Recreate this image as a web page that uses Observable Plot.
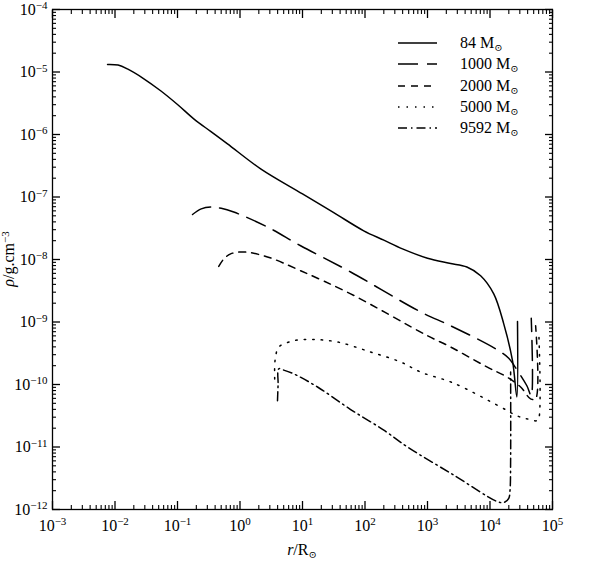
<!DOCTYPE html>
<html>
<head>
<meta charset="utf-8">
<script src="https://cdn.jsdelivr.net/npm/d3@7"></script>
<script src="https://cdn.jsdelivr.net/npm/@observablehq/plot@0.6"></script>
<style>
  body { margin: 0; background: #fff; }
  #chart svg, #chart svg text { font-family: "Liberation Serif", "Times New Roman", "DejaVu Serif", serif !important; }
</style>
</head>
<body>
<div id="chart"></div>
<script>
// ---- Data ----
const seriesLabels = ["84", "1000", "2000", "5000", "9592"];
const seriesDash = ["none", "20,9", "7,6", "1.5,7", "9,4,1.5,4"];

const r84   = [7.6e-3, 1.12e-2, 1.58e-2, 2.82e-2, 5.37e-2, 0.1, 0.182, 0.339, 0.631, 2.14, 10, 31.6, 95.5, 200, 398, 1000, 2239, 4266, 7079, 11482, 16596, 22909, 26915, 27542];
const rho84 = [1.32e-5, 1.29e-5, 1.12e-5, 7.94e-6, 5.01e-6, 3.02e-6, 1.78e-6, 1.12e-6, 7.08e-7, 2.82e-7, 1.12e-7, 5.62e-8, 2.88e-8, 2.04e-8, 1.48e-8, 1.05e-8, 8.71e-9, 7.59e-9, 5.50e-9, 2.82e-9, 9.33e-10, 2.40e-10, 6.31e-11, 1.02e-9];

const r1000   = [0.174, 0.240, 0.339, 0.501, 0.794, 2.75, 9.33, 58.9, 776, 2344, 12303, 19953, 25119, 38905, 45709, 45709];
const rho1000 = [5.25e-8, 6.46e-8, 6.92e-8, 6.61e-8, 5.75e-8, 3.31e-8, 1.66e-8, 6.31e-9, 1.45e-9, 8.71e-10, 3.72e-10, 2.63e-10, 1.91e-10, 9.55e-11, 6.61e-11, 1.15e-9];

const r2000   = [0.457, 0.550, 0.708, 1.15, 2.75, 9.33, 58.9, 1000, 2344, 8913, 18621, 30903, 44668, 53703, 53703];
const rho2000 = [7.76e-9, 1.02e-8, 1.23e-8, 1.32e-8, 1.10e-8, 6.61e-9, 2.82e-9, 6.03e-10, 3.98e-10, 1.91e-10, 1.32e-10, 9.12e-11, 5.89e-11, 5.89e-11, 8.71e-10];

const r5000   = [3.59, 3.59, 3.72, 4.17, 7.24, 14.5, 36.3, 123, 372, 776, 2512, 14791, 26915, 38905, 56234, 60256, 60256];
const rho5000 = [1.23e-10, 2.00e-10, 2.82e-10, 3.98e-10, 5.01e-10, 5.25e-10, 4.79e-10, 3.31e-10, 2.29e-10, 1.58e-10, 1.07e-10, 4.37e-11, 3.16e-11, 2.82e-11, 2.63e-11, 2.82e-11, 7.24e-10];

const r9592   = [3.98, 4.07, 4.17, 5.01, 7.24, 17.4, 58.9, 200, 479, 2630, 12882, 16596, 19953, 20893, 21380, 21380];
const rho9592 = [5.50e-11, 1.0e-10, 1.78e-10, 1.70e-10, 1.48e-10, 9.12e-11, 3.98e-11, 1.86e-11, 1.0e-11, 3.55e-12, 1.35e-12, 1.29e-12, 1.51e-12, 2.0e-12, 6.31e-12, 1.58e-10];

// tick exponents
const xTickExps = [-3, -2, -1, 0, 1, 2, 3, 4, 5];
const yTickExps = [-12, -11, -10, -9, -8, -7, -6, -5, -4];

// ---- Build ----
const rs = [r84, r1000, r2000, r5000, r9592];
const rhos = [rho84, rho1000, rho2000, rho5000, rho9592];
const tables = rs.map((r, k) => r.map((v, i) => ({r: v, rho: rhos[k][i], s: seriesLabels[k]})));

const xMajor = xTickExps.map(e => Math.pow(10, e));
const yMajor = yTickExps.map(e => Math.pow(10, e));
const minorOf = exps => exps.slice(0, -1).flatMap(e => [2,3,4,5,6,7,8,9].map(m => m * Math.pow(10, e)));
const xMinor = minorOf(xTickExps);
const yMinor = minorOf(yTickExps);

const expFmt = d => "10^" + Math.round(Math.log10(d));
const blank = () => "";

const lineMarks = tables.map((t, k) => Plot.line(t, {
  x: "r", y: "rho", stroke: "black", strokeWidth: 1.5, curve: "catmull-rom",
  strokeDasharray: seriesDash[k] === "none" ? null : seriesDash[k]
}));

const tickAxes = [];
for (const anchor of ["bottom", "top"]) {
  tickAxes.push(Plot.axisX(xMajor, {anchor, tickSize: 8, inset: 8, tickFormat: blank, label: null, stroke: "black", strokeWidth: 1.3}));
  tickAxes.push(Plot.axisX(xMinor, {anchor, tickSize: 4, inset: 4, tickFormat: blank, label: null, stroke: "black", strokeWidth: 1.1}));
}
for (const anchor of ["left", "right"]) {
  tickAxes.push(Plot.axisY(yMajor, {anchor, tickSize: 8, inset: 8, tickFormat: blank, label: null, stroke: "black", strokeWidth: 1.3}));
  tickAxes.push(Plot.axisY(yMinor, {anchor, tickSize: 4, inset: 4, tickFormat: blank, label: null, stroke: "black", strokeWidth: 1.1}));
}

const chart = Plot.plot({
  width: 603,
  height: 561,
  marginLeft: 52,
  marginRight: 51,
  marginTop: 9,
  marginBottom: 52,
  x: {type: "log", domain: [1e-3, 1e5]},
  y: {type: "log", domain: [1e-12, 1e-4]},
  style: {fontFamily: "'Liberation Serif', serif", fontSize: "16px", background: "white", color: "black"},
  marks: [
    ...lineMarks,
    Plot.axisX(xMajor, {anchor: "bottom", tickSize: 0, tickPadding: 10, tickFormat: expFmt, label: null, fontSize: 16}),
    Plot.axisY(yMajor, {anchor: "left", tickSize: 0, tickPadding: 5, tickFormat: expFmt, label: null, fontSize: 16}),
    ...tickAxes,
    Plot.frame({stroke: "black", strokeWidth: 1.3})
  ]
});

document.getElementById("chart").appendChild(chart);

// superscript exponents in tick labels
const svg = d3.select(chart);
svg.selectAll("text").each(function() {
  const t = this.textContent;
  const m = /^10\^(-?\d+)$/.exec(t);
  if (!m) return;
  const el = d3.select(this);
  el.text(null);
  el.append("tspan").text("10");
  el.append("tspan").attr("dy", "-0.5em").attr("font-size", "11px").text(m[1].replace("-", "\u2212"));
});

// axis labels
const yl = svg.append("text")
  .attr("transform", "translate(14,259) rotate(-90)")
  .attr("text-anchor", "middle")
  .attr("font-size", 16)
  .attr("fill", "black");
yl.append("tspan").attr("font-style", "italic").text("ρ");
yl.append("tspan").text("/g.cm");
yl.append("tspan").attr("dy", "-0.5em").attr("font-size", "11px").text("\u22123");

const xl = svg.append("text")
  .attr("x", 302).attr("y", 555)
  .attr("text-anchor", "middle")
  .attr("font-size", 16)
  .attr("fill", "black");
xl.append("tspan").attr("font-style", "italic").text("r");
xl.append("tspan").text("/R");
xl.append("tspan").attr("dy", "0.3em").attr("font-size", "10px").text("\u2299");

// legend
const lg = svg.append("g").attr("class", "legend").attr("text-anchor", "start");
const rowY = [43, 64, 86, 107, 128];
seriesLabels.forEach((lab, k) => {
  lg.append("line")
    .attr("x1", 398).attr("x2", 437).attr("y1", rowY[k]).attr("y2", rowY[k])
    .attr("stroke", "black").attr("stroke-width", 1.5)
    .attr("stroke-dasharray", seriesDash[k] === "none" ? null : seriesDash[k]);
  const tx = lg.append("text")
    .attr("x", 460).attr("y", rowY[k] + 5)
    .attr("text-anchor", "start")
    .attr("font-size", 16).attr("fill", "black");
  tx.append("tspan").text(lab + " M");
  tx.append("tspan").attr("dy", "0.3em").attr("font-size", "10px").text("\u2299");
});
</script>
</body>
</html>
